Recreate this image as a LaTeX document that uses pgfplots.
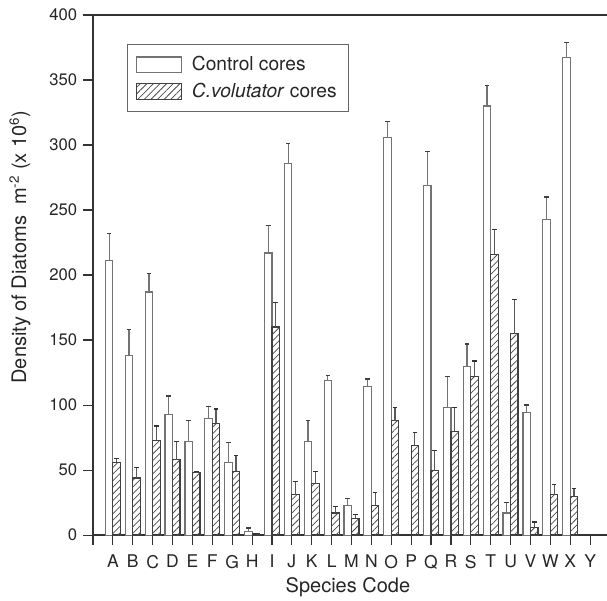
\documentclass[border=0pt]{standalone}
\usepackage{fontspec}
\setmainfont{TeX Gyre Heros}
\usepackage{pgfplots}
\pgfplotsset{compat=1.18}
\usepackage{pgfplotstable}
\usetikzlibrary{patterns.meta}

\pgfplotstableread{
x y e
0 211 21
1 138 20
2 187 14
3 93 14
4 72 16
5 90 9
6 56 15
7 2.6 2.8
8 217 21
9 286 15
10 72 16
11 119 4
12 23 5
13 114 6
14 306 12
16 269 26
17 98 24
18 130 17
19 330 16
20 17 8
21 94 6
22 243 17
23 367 12
}\control

\pgfplotstableread{
x y e
0 56 3
1 44 8
2 73 11
3 58 14
4 48 1
5 86 11
6 49 12
7 1.3 0
8 160 19
9 31 10
10 40 9
11 17 5
12 13 3
13 23 10
14 88 10
15 69 10
16 50 15
17 80 18
18 122 12
19 216 19
20 155 26
21 6 4
22 31 8
23 30 6
}\volutator

\begin{document}
\begin{tikzpicture}
\begin{axis}[
  name=ax, scale only axis, width=308.3pt, height=312pt,
  ybar=0pt, bar width=4.5pt,
  xmin=-1, xmax=24.85, ymin=0, ymax=400,
  axis x line*=box, axis y line*=left,
  axis line style={black!80, line width=0.8pt},
  tick align=outside, tick pos=left, major tick length=6pt,
  tick style={black!80, line width=0.7pt},
  xtick={-1,0,...,24},
  xticklabels={,A,B,C,D,E,F,G,H,I,J,K,L,M,N,O,P,Q,R,S,T,U,V,W,X,Y},
  ytick={0,50,...,400},
  /pgf/number format/assume math mode=true,
  xticklabel style={font=\fontsize{10.5}{12}\selectfont, text=black!85, yshift=-2.5pt},
  yticklabel style={font=\fontsize{10}{12}\selectfont, text=black!85},
  ylabel={Density of Diatoms\ \ m\textsuperscript{-2} (x 10\textsuperscript{6})},
  xlabel={Species Code},
  every axis y label/.append style={at={(axis description cs:-0.142,0.554)}, anchor=center, font=\fontsize{12}{14}\selectfont, text=black!85},
  every axis x label/.append style={at={(axis description cs:0.496,-0.1)}, anchor=center, font=\fontsize{12}{14}\selectfont, text=black!85},
  legend style={at={(axis description cs:0.066,0.944)}, anchor=north west,
    draw=black!60, line width=0.6pt, inner xsep=5pt, inner ysep=5pt, row sep=2pt,
    font=\fontsize{11.5}{13.5}\selectfont, text=black!85},
  legend cell align=left,
  legend image code/.code={\draw[#1] (0pt,-4.6pt) rectangle (27pt,4.6pt); \path (31pt,0pt);},
]
\addplot[draw=black!55, fill=white, line width=0.7pt,
  error bars/.cd, y dir=plus, y explicit, error mark=-,
  error bar style={black!55, line width=0.7pt},
  error mark options={rotate=90, black!75, mark size=1.4pt, line width=0.8pt}]
  table[x=x, y=y, y error=e]{\control};
\addlegendentry{Control cores}
\addplot[draw=black!75, line width=0.7pt,
  pattern={Lines[angle=45, distance=2.8pt, line width=0.45pt]}, pattern color=black!70,
  error bars/.cd, y dir=plus, y explicit, error mark=-,
  error bar style={black!65, line width=0.7pt},
  error mark options={rotate=90, black!80, mark size=1.4pt, line width=0.8pt}]
  table[x=x, y=y, y error=e]{\volutator};
\addlegendentry{\textit{C.volutator} cores}
\end{axis}
\pgfresetboundingbox
\path[use as bounding box] ([xshift=-55.8pt,yshift=-39pt]ax.south west) rectangle ([yshift=9pt]ax.north east);
\end{tikzpicture}
\end{document}
